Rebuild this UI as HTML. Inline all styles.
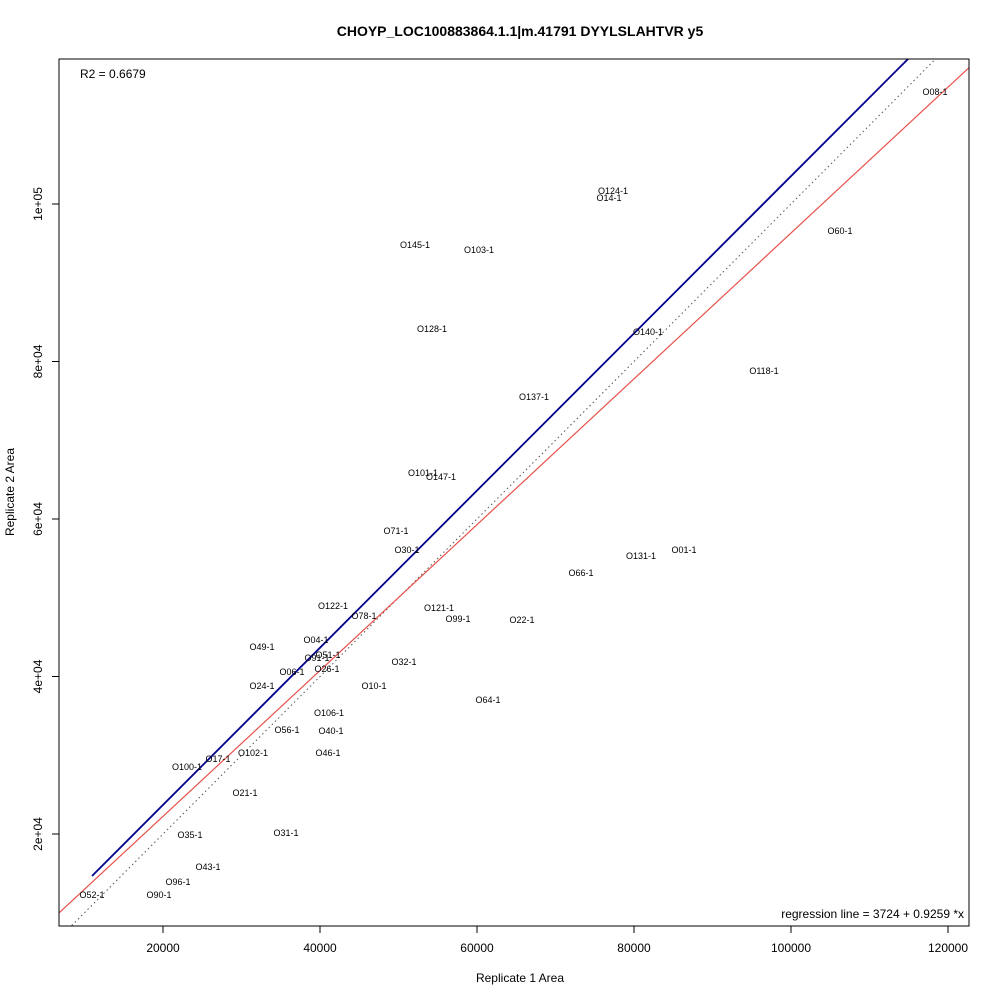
<!DOCTYPE html>
<html><head><meta charset="utf-8"><style>
body{margin:0;background:#fff}
svg text{font-family:"Liberation Sans",Arial,sans-serif}
</style></head><body>
<svg id="chart" width="1000" height="1000" xmlns="http://www.w3.org/2000/svg">
<rect width="1000" height="1000" fill="#fff"/>
<text x="520" y="36" text-anchor="middle" font-size="14" font-weight="bold">CHOYP_LOC100883864.1.1|m.41791 DYYLSLAHTVR y5</text>
<text x="520" y="982" text-anchor="middle" font-size="12">Replicate 1 Area</text>
<text transform="translate(14,492) rotate(-90)" text-anchor="middle" font-size="12">Replicate 2 Area</text>
<g id="plot"></g>
<rect x="59" y="59" width="910" height="867" fill="none" stroke="#000"/>
<text x="80" y="78" font-size="12">R2 = 0.6679</text>
<text x="964" y="918" text-anchor="end" font-size="12">regression line = 3724 + 0.9259 *x</text>
</svg>
<script>
const labels=["O08-1","O124-1","O14-1","O60-1","O145-1","O103-1","O128-1","O140-1","O118-1","O137-1","O101-1","O147-1","O71-1","O30-1","O01-1","O131-1","O66-1","O122-1","O78-1","O121-1","O99-1","O22-1","O04-1","O49-1","O51-1","O91-1","O32-1","O06-1","O26-1","O24-1","O10-1","O64-1","O106-1","O56-1","O40-1","O102-1","O46-1","O17-1","O100-1","O21-1","O35-1","O31-1","O43-1","O96-1","O52-1","O90-1"];
const rep1=[118345,77326,76816,106243,52102,60255,54268,81784,96561,67262,53121,55414,49682,51083,86370,80892,73249,41656,45605,55160,57580,65733,39491,32612,41019,39618,50701,36433,40892,32612,46879,61402,41147,35796,41402,31465,41019,27006,23057,30446,23440,35669,25733,21911,10955,19490];
const rep2=[114219,101648,100759,96569,94791,94156,84125,83744,78792,75490,65840,65332,58475,56062,56062,55300,53142,48951,47682,48697,47301,47174,44634,43745,42729,42348,41841,40571,40952,38793,38793,37015,35365,33206,33079,30285,30285,29524,28508,25206,19873,20127,15810,13905,12254,12254];
const xTicks=[20000,40000,60000,80000,100000,120000];
const yTicks=[20000,40000,60000,80000,100000];
const yTickLabels=["2e+04","4e+04","6e+04","8e+04","1e+05"];
const regIntercept=3724, regSlope=0.9259;
const fitIntercept=3734, fitSlope=0.998;
const X0=59,X1=969,Y0=926,Y1=59;
const xMin=6751,xMax=122676,yMin=8318,yMax=118410;
const sx=v=>X0+(v-xMin)/(xMax-xMin)*(X1-X0);
const sy=v=>Y0-(v-yMin)/(yMax-yMin)*(Y0-Y1);
const NS="http://www.w3.org/2000/svg";
const svg=document.getElementById('chart');
const g=document.getElementById('plot');
function mk(t,a,p){const e=document.createElementNS(NS,t);for(const k in a)e.setAttribute(k,a[k]);(p||g).appendChild(e);return e;}
const defs=mk('defs',{},svg);
const cp=mk('clipPath',{id:'clip'},defs);
mk('rect',{x:X0,y:Y1,width:X1-X0,height:Y0-Y1},cp);
const lg=mk('g',{'clip-path':'url(#clip)'});
let l=mk('line',{x1:sx(xMin),y1:sy(xMin),x2:sx(xMax),y2:sy(xMax),stroke:'#555','stroke-dasharray':'1.5,3','stroke-width':1},lg);


l=mk('line',{x1:sx(xMin),y1:sy(regIntercept+regSlope*xMin),x2:sx(xMax),y2:sy(regIntercept+regSlope*xMax),stroke:'#e8504a','stroke-width':1.2},lg);


const dmin=Math.min(...rep1),dmax=Math.max(...rep1);
l=mk('line',{x1:sx(dmin),y1:sy(fitIntercept+fitSlope*dmin),x2:sx(dmax),y2:sy(fitIntercept+fitSlope*dmax),stroke:'#00008b','stroke-width':1.8},lg);


labels.forEach((s,i)=>{
 const t=mk('text',{x:sx(rep1[i]),y:sy(rep2[i])+3,'text-anchor':'middle','font-size':9});
 t.textContent=s;
 
 
});
const xa=mk('g',{},svg);


mk('line',{x1:sx(xTicks[0]),y1:Y0,x2:sx(xTicks[xTicks.length-1]),y2:Y0,stroke:'#000'},xa);
xTicks.forEach(v=>{
 mk('line',{x1:sx(v),y1:Y0,x2:sx(v),y2:Y0+7,stroke:'#000'},xa);
 const t=mk('text',{x:sx(v),y:Y0+26,'text-anchor':'middle','font-size':12},xa);
 t.textContent=v;
 
 
});
const ya=mk('g',{},svg);


mk('line',{x1:X0,y1:sy(yTicks[0]),x2:X0,y2:sy(yTicks[yTicks.length-1]),stroke:'#000'},ya);
yTicks.forEach((v,i)=>{
 mk('line',{x1:X0,y1:sy(v),x2:X0-7,y2:sy(v),stroke:'#000'},ya);
 const t=mk('text',{transform:`translate(42,${sy(v)}) rotate(-90)`,'text-anchor':'middle','font-size':12},ya);
 t.textContent=yTickLabels[i];
 
 
});
</script>
</body></html>
